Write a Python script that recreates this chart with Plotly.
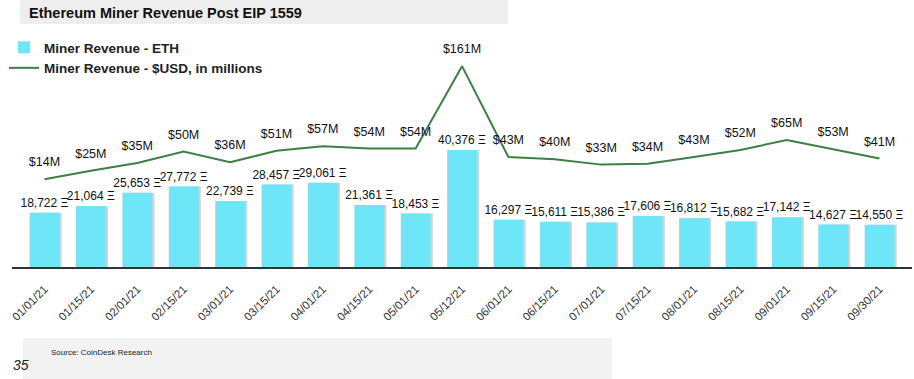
import plotly.graph_objects as go

dates = ["01/01/21", "01/15/21", "02/01/21", "02/15/21", "03/01/21", "03/15/21",
         "04/01/21", "04/15/21", "05/01/21", "05/12/21", "06/01/21", "06/15/21",
         "07/01/21", "07/15/21", "08/01/21", "08/15/21", "09/01/21", "09/15/21",
         "09/30/21"]
eth_revenue = [18722, 21064, 25653, 27772, 22739, 28457, 29061, 21361, 18453, 40376,
               16297, 15611, 15386, 17606, 16812, 15682, 17142, 14627, 14550]
usd_revenue_m = [14, 25, 35, 50, 36, 51, 57, 54, 54, 161, 43, 40, 33, 34, 43, 52, 65, 53, 41]

BAR_COLOR = "#6fe6f8"
LINE_COLOR = "#3f7f45"
FONT = "Liberation Sans, Arial, sans-serif"

W, H = 914, 379
L, R, T, B = 12, 2, 40, 112
PW, PH = W - L - R, H - T - B

def px_x(p):
    return (p - L) / PW

def px_y(p):
    return (H - B - p) / PH

fig = go.Figure()

# bar shadow
fig.add_trace(go.Bar(
    x=dates, y=eth_revenue, width=0.64, offset=-0.27,
    marker=dict(color="rgba(0,0,0,0.18)", line=dict(width=0)),
    showlegend=False, hoverinfo="skip", yaxis="y",
))
fig.add_trace(go.Bar(
    x=dates, y=eth_revenue, width=0.64, offset=-0.32,
    name="Miner Revenue - ETH",
    marker=dict(color=BAR_COLOR, line=dict(width=0)),
    text=[f"{v:,} \u039e" for v in eth_revenue],
    textposition="outside", cliponaxis=False, constraintext="none",
    textfont=dict(family=FONT, size=12, color="#111"),
    yaxis="y",
))
fig.add_trace(go.Scatter(
    x=dates, y=usd_revenue_m, mode="lines+markers+text",
    name="Miner Revenue - $USD, in millions",
    line=dict(color=LINE_COLOR, width=2),
    marker=dict(size=14, color="rgba(0,0,0,0)"),
    text=[f"${v}M" for v in usd_revenue_m],
    textposition="top center", cliponaxis=False,
    textfont=dict(family=FONT, size=12.5, color="#111"),
    yaxis="y2",
))

fig.update_layout(
    width=W, height=H,
    margin=dict(l=L, r=R, t=T, b=B, pad=0),
    paper_bgcolor="white", plot_bgcolor="white",
    barmode="overlay", bargap=0.35,
    font=dict(family=FONT, color="#111"),
    showlegend=True,
    legend=dict(
        x=px_x(4), y=px_y(32), xanchor="left", yanchor="top",
        font=dict(family=FONT, size=13.5, color="#222", weight="bold"),
        bgcolor="rgba(0,0,0,0)", itemwidth=30,
    ),
    xaxis=dict(
        type="category", range=[-0.7, 18.7],
        showline=True, linecolor="#333", linewidth=1.5,
        showgrid=False, zeroline=False, ticks="",
        tickangle=-45, tickfont=dict(family=FONT, size=11.5, color="#333"),
        ticklabelstandoff=9,
    ),
    yaxis=dict(range=[0, PH * 345], visible=False, showgrid=False),
    yaxis2=dict(range=[-(H - B - 190) * 1.3, (190 - T) * 1.3], overlaying="y",
                visible=False, showgrid=False),
    shapes=[
        dict(type="rect", xref="paper", yref="paper",
             x0=px_x(20), x1=px_x(508), y0=px_y(24), y1=px_y(0),
             fillcolor="#eeeeee", line=dict(width=0), layer="below"),
        dict(type="rect", xref="paper", yref="paper",
             x0=px_x(23), x1=px_x(612), y0=px_y(379), y1=px_y(338),
             fillcolor="#f2f2f2", line=dict(width=0), layer="below"),
    ],
    annotations=[
        dict(text="<b>Ethereum Miner Revenue Post EIP 1559</b>", xref="paper", yref="paper",
             x=px_x(27), y=px_y(13), xanchor="left", yanchor="middle", showarrow=False,
             font=dict(family=FONT, size=14.5, color="#111")),
        dict(text="Source: CoinDesk Research", xref="paper", yref="paper",
             x=px_x(49), y=px_y(352), xanchor="left", yanchor="middle", showarrow=False,
             font=dict(family=FONT, size=8, color="#222")),
        dict(text="<i>35</i>", xref="paper", yref="paper",
             x=px_x(11), y=px_y(365), xanchor="left", yanchor="middle", showarrow=False,
             font=dict(family=FONT, size=14, color="#222")),
    ],
)

fig.write_html("out.html", config={"displayModeBar": False},
               post_script="document.body.style.margin='0';")
